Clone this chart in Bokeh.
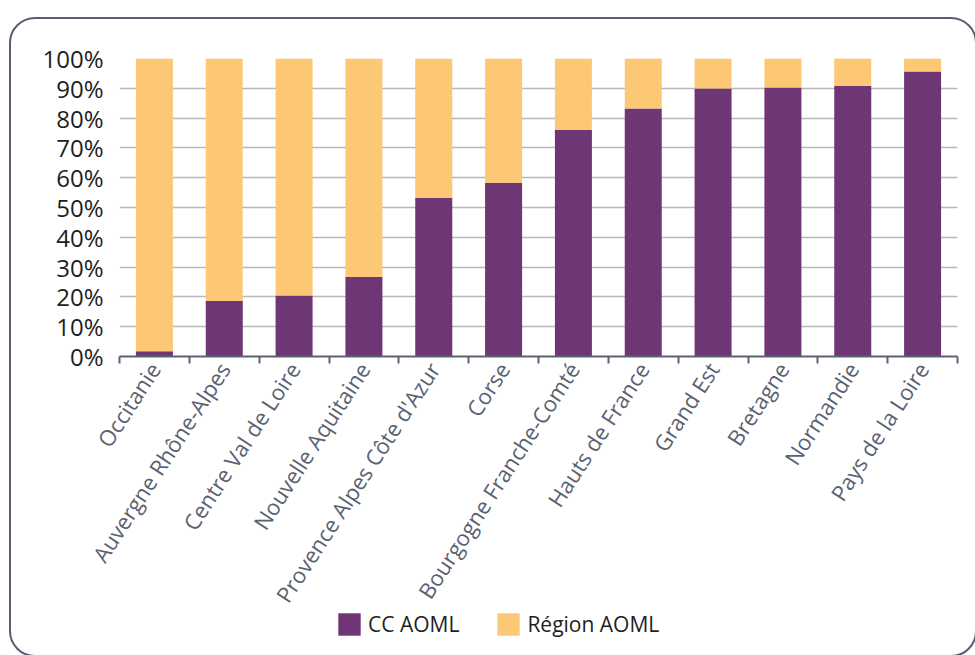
import numpy as np
from bokeh.plotting import figure
from bokeh.models import (ColumnDataSource, FixedTicker, Range1d, Legend, LegendItem,
                          InlineStyleSheet)
from bokeh.layouts import column
from bokeh.embed import file_html
from bokeh.resources import INLINE

# ---------------- data ----------------
categories = ["Occitanie", "Auvergne Rhône-Alpes", "Centre Val de Loire",
              "Nouvelle Aquitaine", "Provence Alpes Côte d'Azur", "Corse",
              "Bourgogne Franche-Comté", "Hauts de France", "Grand Est",
              "Bretagne", "Normandie", "Pays de la Loire"]
cc_aoml = [1.8, 18.6, 20.5, 26.7, 53.3, 58.3, 76.0, 83.2, 89.9, 90.3, 90.8, 95.6]
region_aoml = [round(100 - v, 1) for v in cc_aoml]
series_names = ["CC AOML", "Région AOML"]
y_ticks = [0, 10, 20, 30, 40, 50, 60, 70, 80, 90, 100]
y_tick_labels = ["0%", "10%", "20%", "30%", "40%", "50%", "60%", "70%", "80%", "90%", "100%"]

PURPLE = "#6f3676"
YELLOW = "#fcc875"
FONT = "Open Sans"
AXIS_GREY = "#5a6272"

n = len(categories)
xpos = [i + 0.5 for i in range(n)]
src = ColumnDataSource(dict(
    x=xpos,
    cc=cc_aoml,
    reg=region_aoml,
    top_reg=[a + b for a, b in zip(cc_aoml, region_aoml)],
))

frame_css = InlineStyleSheet(css="""
:host { overflow: hidden; }
:host::after {
  content: "";
  position: absolute;
  left: 9px; top: 17px;
  width: 968px; height: 640px;
  box-sizing: border-box;
  border: 2.5px solid #56606e;
  border-radius: 26px;
  pointer-events: none;
}
""")

p = figure(width=975, height=655, output_backend="svg", toolbar_location=None,
           x_range=Range1d(0, n), y_range=Range1d(0, 100),
           min_border_left=119, min_border_right=18, min_border_top=58,
           min_border_bottom=299, stylesheets=[frame_css])
p.outline_line_color = None
p.background_fill_color = "white"
p.border_fill_color = "white"

r1 = p.vbar(x="x", bottom=0, top="cc", width=0.53, source=src,
            fill_color=PURPLE, line_color=None)
r2 = p.vbar(x="x", bottom="cc", top="top_reg", width=0.53, source=src,
            fill_color=YELLOW, line_color=None)

# grid
p.xgrid.grid_line_color = None
p.ygrid.grid_line_color = "#b8b8b8"
p.ygrid.grid_line_width = 1.5
p.ygrid.ticker = FixedTicker(ticks=y_ticks)

# y axis
p.yaxis.ticker = FixedTicker(ticks=y_ticks)
p.yaxis.major_label_overrides = {t: l for t, l in zip(y_ticks, y_tick_labels)}
p.yaxis.axis_line_color = None
p.yaxis.major_tick_line_color = None
p.yaxis.major_tick_out = 0
p.yaxis.minor_tick_line_color = None
p.yaxis.major_label_standoff = 16
p.yaxis.major_label_text_font = FONT
p.yaxis.major_label_text_font_size = "24px"
p.yaxis.major_label_text_color = "#1e1e1e"

# x axis: labels at centres, ticks at category boundaries (minor ticks)
p.xaxis.ticker = FixedTicker(ticks=xpos, minor_ticks=list(range(n + 1)))
p.xaxis.major_label_overrides = {x: c for x, c in zip(xpos, categories)}
p.xaxis.major_tick_line_color = None
p.xaxis.major_tick_out = 0
p.xaxis.major_tick_in = 0
p.xaxis.minor_tick_line_color = AXIS_GREY
p.xaxis.minor_tick_line_width = 2
p.xaxis.minor_tick_in = 0
p.xaxis.minor_tick_out = 7
p.xaxis.axis_line_color = AXIS_GREY
p.xaxis.axis_line_width = 2
p.xaxis.major_label_orientation = np.radians(57)
p.xaxis.major_label_standoff = 1
p.xaxis.major_label_text_font = FONT
p.xaxis.major_label_text_font_size = "22px"
p.xaxis.major_label_text_color = AXIS_GREY

# ---------------- legend (transparent strip overlapping the bottom) ----------------
# legend glyphs reuse the series data, kept outside the strip's visible range
lf = figure(width=975, height=50, output_backend="svg", toolbar_location=None,
            x_range=Range1d(0, n), y_range=Range1d(1000, 1001),
            x_axis_type=None, y_axis_type=None,
            min_border_left=0, min_border_right=0, min_border_top=0,
            min_border_bottom=0, margin=(-50, 0, 0, 0))
lf.outline_line_color = None
lf.background_fill_alpha = 0
lf.border_fill_alpha = 0
lf.grid.visible = False
l1 = lf.vbar(x="x", bottom=0, top="cc", width=0.53, source=src,
             fill_color=PURPLE, line_color=None)
l2 = lf.vbar(x="x", bottom="cc", top="top_reg", width=0.53, source=src,
             fill_color=YELLOW, line_color=None)
legend = Legend(items=[LegendItem(label=series_names[0], renderers=[l1]),
                       LegendItem(label=series_names[1], renderers=[l2])],
                orientation="horizontal", location=(216, 17),
                glyph_width=28, glyph_height=28, label_standoff=5, spacing=35,
                padding=0, margin=0, border_line_color=None,
                background_fill_alpha=0,
                label_text_font=FONT, label_text_font_size="21px",
                label_text_color="#1e1e1e")
lf.add_layout(legend, "center")

layout = column(p, lf)
open("out.html", "w").write(file_html(layout, INLINE))
